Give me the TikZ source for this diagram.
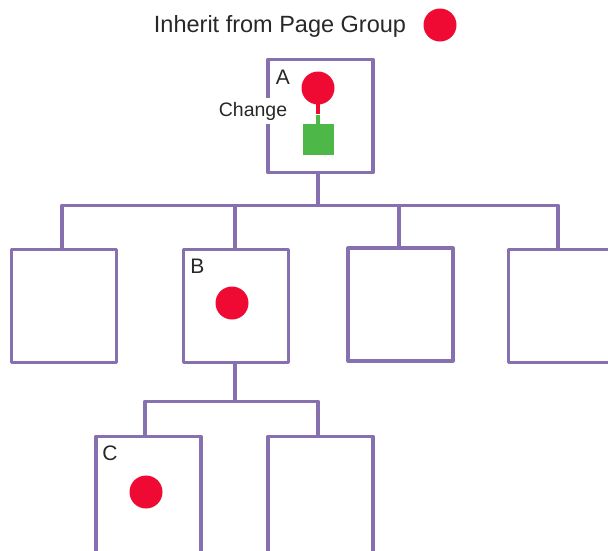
\documentclass[tikz,border=0pt]{standalone}
\usepackage{fontspec}
\setmainfont{Liberation Sans}
\usetikzlibrary{calc}
\definecolor{pur}{RGB}{134,112,176}
\definecolor{rd}{RGB}{238,10,50}
\definecolor{gr}{RGB}{77,184,72}
\definecolor{txt}{RGB}{40,40,40}
\begin{document}
\begin{tikzpicture}[x=1pt,y=-1pt,
  page/.style={draw=pur, line width=3.2pt, minimum width=105pt, minimum height=113pt, inner sep=0pt, line join=round},
  link/.style={draw=pur, line width=3.2pt, line join=round},
  dot/.style={circle, fill=rd, minimum size=33pt, inner sep=0pt},
  lbl/.style={text=txt, inner sep=0pt, font=\fontsize{21}{24}\selectfont}]
\useasboundingbox (0,0) rectangle (608,550);
\clip (0,0) rectangle (608,550);
% title
\node[text=txt, inner sep=0pt, anchor=base, font=\fontsize{23.5}{28}\selectfont] (title) at (280,32) {Inherit from Page Group};
\node[dot] (legend) at (440,25) {};
% pages
\node[page] (A) at (320.5,116) {};
\node[page] (p1) at (64,306) {};
\node[page] (B) at (236,306) {};
\node[page] (p3) at (400.5,304.5) {};
\node[page] (p4) at (561,306) {};
\node[page, minimum height=116.5pt] (C) at (148.5,494.75) {};
\node[page, minimum height=116.5pt] (D) at (320.5,494.75) {};
% connectors
\draw[link] ([xshift=-2.5pt]A.south) -- ++(0,31) coordinate (busA);
\draw[link] (busA) -| ([xshift=-2pt]p1.north);
\draw[link] (busA) -| ([xshift=-1pt]B.north);
\draw[link] (busA) -| ([xshift=-1.5pt]p3.north);
\draw[link] (busA) -| ([xshift=-3pt]p4.north);
\draw[link] ([xshift=-1pt]B.south) -- ++(0,37) coordinate (busB);
\draw[link] (busB) -| ([xshift=-3.5pt]C.north);
\draw[link] (busB) -| ([xshift=-2.5pt]D.north);
% change label
\node[text=txt, fill=white, inner xsep=2pt, inner ysep=4pt, anchor=base, font=\fontsize{19.5}{23}\selectfont] (chg) at (253,116) {Change};
% inner contents
\node[lbl] (la) at (283,77) {A};
\coordinate (mid) at (318,114.5);
\draw[gr, line width=4pt] (mid) -- (318,135);
\draw[rd, line width=4pt] (318,95) -- ([yshift=0.3pt]mid);
\node[dot] (ad) at (318,88) {};
\node[fill=gr, minimum size=31pt, inner sep=0pt] (as) at (318.5,139.5) {};
\node[lbl] (lb) at (197.5,266.5) {B};
\node[dot] (bd) at (232,303) {};
\node[lbl] (lc) at (110,453.5) {C};
\node[dot] (cd) at (146,492) {};
\end{tikzpicture}
\end{document}
